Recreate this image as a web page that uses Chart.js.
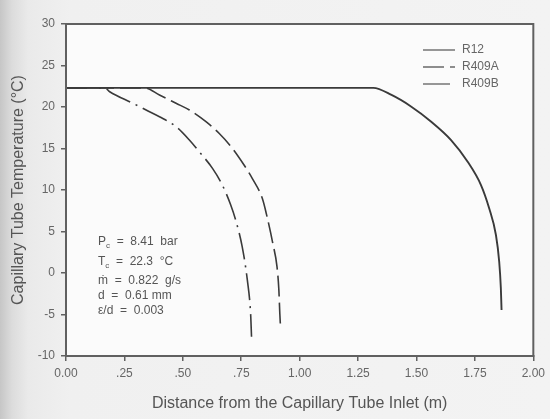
<!DOCTYPE html>
<html>
<head>
<meta charset="utf-8">
<script src="https://cdn.jsdelivr.net/npm/chart.js@4.4.1/dist/chart.umd.min.js"></script>
<style>
  html, body { margin: 0; padding: 0; }
  body {
    width: 550px; height: 419px; overflow: hidden;
    background: linear-gradient(to right, #c6c6c6 0px, #dcdcdc 12px, #eaeaea 28px, #f0f0f0 70px, #f3f3f3 100%);
  }
  canvas { display: block; }
</style>
</head>
<body>
<canvas id="capChart" width="550" height="419"></canvas>
<script>
// values
const seriesNames = ['R12', 'R409A', 'R409B'];

const r12X = [0.00, 1.315, 1.393, 1.478, 1.563, 1.648, 1.719, 1.776, 1.811, 1.840, 1.854, 1.861, 1.864];
const r12T = [22.3, 22.3, 21.45, 20.04, 18.23, 16.02, 13.41, 10.60, 7.80, 4.58, 1.36, -1.81, -4.46];

const r409aX = [0.00, 0.336, 0.400, 0.471, 0.528, 0.599, 0.655, 0.712, 0.762, 0.797, 0.840, 0.857, 0.885, 0.903, 0.911, 0.915, 0.918];
const r409aT = [22.3, 22.3, 21.45, 20.45, 19.64, 18.23, 16.83, 15.02, 13.01, 11.41, 9.00, 7.19, 3.58, 0.76, -2.05, -4.86, -6.47];

const r409bX = [0.00, 0.166, 0.187, 0.286, 0.343, 0.400, 0.471, 0.528, 0.570, 0.627, 0.669, 0.705, 0.726, 0.754, 0.776, 0.790, 0.794];
const r409bT = [22.3, 22.3, 21.84, 20.45, 19.64, 18.83, 17.63, 16.02, 14.61, 12.61, 10.60, 8.19, 6.39, 3.17, -0.84, -4.86, -7.67];

const xTickValues = [0, 0.25, 0.5, 0.75, 1, 1.25, 1.5, 1.75, 2];
const xTickLabels = ['0.00', '.25', '.50', '.75', '1.00', '1.25', '1.50', '1.75', '2.00'];

const noteLines = [
  { main: 'P', sub: 'c', rest: '  =  8.41  bar' },
  { main: 'T', sub: 'c', rest: '  =  22.3  \u00B0C' },
  { main: '\u1E41', sub: '', rest: '  =  0.822  g/s' },
  { main: 'd', sub: '', rest: '  =  0.61 mm' },
  { main: '\u03B5/d', sub: '', rest: '  =  0.003' }
];

const toPoints = (xs, ys) => xs.map((x, i) => ({ x: x, y: ys[i] }));

const lineColor = '#3a3a3a';
const axisColor = '#606060';
const textColor = '#555';
const fontFamily = '"Liberation Sans", Arial, sans-serif';

const plotBackground = {
  id: 'plotBackground',
  beforeDraw(chart) {
    const { ctx, chartArea: a } = chart;
    ctx.save();
    ctx.fillStyle = '#fbfbfb';
    ctx.fillRect(a.left, a.top, a.right - a.left, a.bottom - a.top);
    ctx.restore();
  },
  afterDraw(chart) {
    const { ctx, chartArea: a } = chart;
    ctx.save();
    ctx.strokeStyle = axisColor;
    ctx.lineWidth = 2;
    ctx.strokeRect(a.left, a.top, a.right - a.left, a.bottom - a.top);
    ctx.restore();
  }
};

// legend in the top right corner, styles taken from the datasets
const cornerLegend = {
  id: 'cornerLegend',
  afterDraw(chart) {
    const ctx = chart.ctx;
    ctx.save();
    ctx.font = '12px ' + fontFamily;
    ctx.textBaseline = 'middle';
    chart.data.datasets.forEach((ds, i) => {
      const y = 50 + i * 17;
      ctx.strokeStyle = '#6a6a6a';
      ctx.lineWidth = 1.4;
      ctx.setLineDash(ds.borderDash || []);
      ctx.beginPath();
      ctx.moveTo(423, y);
      ctx.lineTo(455, y);
      ctx.stroke();
      ctx.setLineDash([]);
      ctx.fillStyle = '#666';
      ctx.fillText(ds.label, 462, y);
    });
    ctx.restore();
  }
};

// conditions text block
const conditionNote = {
  id: 'conditionNote',
  afterDraw(chart) {
    const ctx = chart.ctx;
    const rows = [242, 262, 281, 296, 311];
    ctx.save();
    ctx.fillStyle = textColor;
    ctx.textBaseline = 'middle';
    noteLines.forEach((ln, i) => {
      let x = 98;
      const y = rows[i];
      ctx.font = '12px ' + fontFamily;
      ctx.fillText(ln.main, x, y);
      x += ctx.measureText(ln.main).width;
      if (ln.sub) {
        ctx.font = '8px ' + fontFamily;
        ctx.fillText(ln.sub, x, y + 4);
        x += ctx.measureText(ln.sub).width;
        ctx.font = '12px ' + fontFamily;
      }
      ctx.fillText(ln.rest, x, y);
    });
    ctx.restore();
  }
};

new Chart(document.getElementById('capChart'), {
  type: 'scatter',
  data: {
    datasets: [
      {
        label: seriesNames[0],
        data: toPoints(r12X, r12T),
        showLine: true,
        borderColor: lineColor,
        borderWidth: 1.9,
        pointRadius: 0,
        cubicInterpolationMode: 'monotone'
      },
      {
        label: seriesNames[1],
        data: toPoints(r409aX, r409aT),
        showLine: true,
        borderColor: lineColor,
        borderWidth: 1.6,
        borderDash: [21, 6],
        pointRadius: 0,
        cubicInterpolationMode: 'monotone'
      },
      {
        label: seriesNames[2],
        data: toPoints(r409bX, r409bT),
        showLine: true,
        borderColor: lineColor,
        borderWidth: 1.6,
        borderDash: [27, 6, 2, 6],
        pointRadius: 0,
        cubicInterpolationMode: 'monotone'
      }
    ]
  },
  options: {
    responsive: false,
    animation: false,
    devicePixelRatio: 1,
    layout: { padding: { left: 0, right: 13, top: 24, bottom: 0 } },
    plugins: {
      legend: { display: false },
      tooltip: { enabled: false }
    },
    scales: {
      x: {
        type: 'linear',
        min: 0,
        max: 2,
        afterFit: (scale) => { scale.height = 63; },
        afterBuildTicks: (scale) => { scale.ticks = xTickValues.map(v => ({ value: v })); },
        ticks: {
          color: '#666',
          font: { family: fontFamily, size: 12 },
          padding: 5,
          maxRotation: 0,
          autoSkip: false,
          callback: (v) => {
            const i = xTickValues.indexOf(v);
            return i >= 0 ? xTickLabels[i] : '';
          }
        },
        grid: { drawOnChartArea: false, drawTicks: true, tickLength: 5, color: axisColor, lineWidth: 1.5 },
        border: { display: true, color: axisColor, width: 2 },
        title: {
          display: true,
          text: 'Distance from the Capillary Tube Inlet (m)',
          color: textColor,
          font: { family: fontFamily, size: 16 },
          padding: { top: 0, bottom: 6 }
        }
      },
      y: {
        type: 'linear',
        min: -10,
        max: 30,
        afterFit: (scale) => { scale.width = 66; },
        ticks: {
          stepSize: 5,
          color: '#666',
          font: { family: fontFamily, size: 12 },
          padding: 6
        },
        grid: { drawOnChartArea: false, drawTicks: true, tickLength: 5, color: axisColor, lineWidth: 1.5 },
        border: { display: true, color: axisColor, width: 2 },
        title: {
          display: true,
          text: 'Capillary Tube Temperature (\u00B0C)',
          color: textColor,
          font: { family: fontFamily, size: 16 },
          padding: { top: 9, bottom: 0 }
        }
      }
    }
  },
  plugins: [plotBackground, cornerLegend, conditionNote]
});
</script>
</body>
</html>
